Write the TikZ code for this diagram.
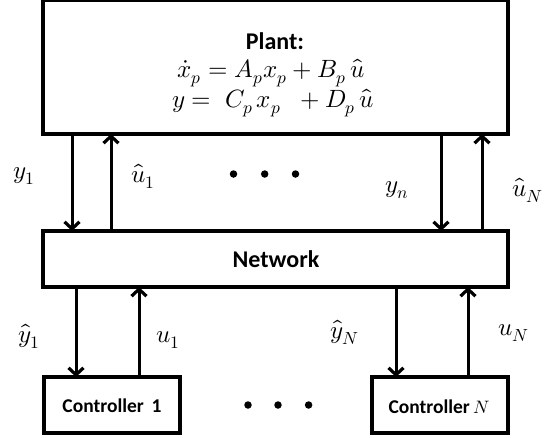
\documentclass[tikz,border=0pt]{standalone}
\usepackage{fontspec}
\setmainfont{Carlito}
\usepackage{unicode-math}
\setmathfont{Latin Modern Math}
\usetikzlibrary{arrows.meta}
\begin{document}
\begin{tikzpicture}[x=1pt,y=-1pt,
  box/.style={draw, line width=3.6pt, rectangle, inner sep=0pt, outer sep=0pt},
  arr/.style={line width=3pt, -{Straight Barb[length=7pt,width=15pt,line width=3.2pt]}},
  lbl/.style={inner sep=0pt, font=\fontsize{25}{29}\selectfont},
  head/.style={inner sep=0pt, font=\fontsize{24}{28}\selectfont\bfseries},
  eq/.style={inner sep=0pt, font=\fontsize{25}{29}\selectfont},
  ctl/.style={inner sep=0pt, font=\fontsize{19.5}{23}\selectfont\bfseries},
  dot/.style={circle, fill, inner sep=0pt, minimum size=7.5pt}]
\useasboundingbox (0,0) rectangle (552,437);
% boxes
\node[box, minimum width=465pt, minimum height=133.5pt] (plant) at (275.5,67.25) {};
\node[box, minimum width=465pt, minimum height=56pt] (net) at (275.5,259) {};
\node[box, minimum width=136pt, minimum height=56pt] (c1) at (112,405) {};
\node[box, minimum width=136pt, minimum height=56pt] (cN) at (440,405) {};
% texts
\node[head] (plantT) at (275,41) {Plant:};
\node[eq] (eq1) at (271,73) {$\dot{x}_p = A_p x_p + B_p\,\hat{u}$};
\node[eq] (eq2) at (273,103) {$y =\; C_p\, x_p \;\;+ D_p\,\hat{u}$};
\node[head] (netT) at (276,259) {Network};
\node[ctl] (c1T) at (112,406) {Controller\hspace{0.4em}1};
\node[ctl] (cNT) at (439,407) {Controller\,{\fontsize{18}{21}\selectfont$N$}};
% arrows plant <-> network
\draw[arr] ([xshift=29pt]plant.south west) -- ([xshift=29pt]net.north west);
\draw[arr] ([xshift=68pt]net.north west) -- ([xshift=68pt]plant.south west);
\draw[arr] ([xshift=398pt]plant.south west) -- ([xshift=398pt]net.north west);
\draw[arr] ([xshift=439pt]net.north west) -- ([xshift=439pt]plant.south west);
% arrows network <-> controllers
\draw[arr] ([xshift=33pt]net.south west) -- ([xshift=32pt]c1.north west);
\draw[arr] ([xshift=95pt]c1.north west) -- ([xshift=96pt]net.south west);
\draw[arr] ([xshift=353pt]net.south west) -- ([xshift=24pt]cN.north west);
\draw[arr] ([xshift=96pt]cN.north west) -- ([xshift=425pt]net.south west);
% labels
\node[lbl] (ly1) at (24,176) {$y_1$};
\node[lbl] (lu1) at (143,176) {$\hat{u}_1$};
\node[lbl] (lyn) at (397,190) {$y_n$};
\node[lbl] (luN) at (528,190) {$\hat{u}_N$};
\node[lbl] (lhy1) at (29,336) {$\hat{y}_1$};
\node[lbl] (lu1b) at (168,340) {$u_1$};
\node[lbl] (lhyN) at (345,332) {$\hat{y}_N$};
\node[lbl] (luNb) at (514,333) {$u_N$};
% dots
\node[dot] (d1) at (233.5,174) {};
\node[dot] (d2) at (264.7,174) {};
\node[dot] (d3) at (295.5,174) {};
\node[dot] (d4) at (248,405) {};
\node[dot] (d5) at (278,405) {};
\node[dot] (d6) at (308.6,405) {};
\end{tikzpicture}
\end{document}
